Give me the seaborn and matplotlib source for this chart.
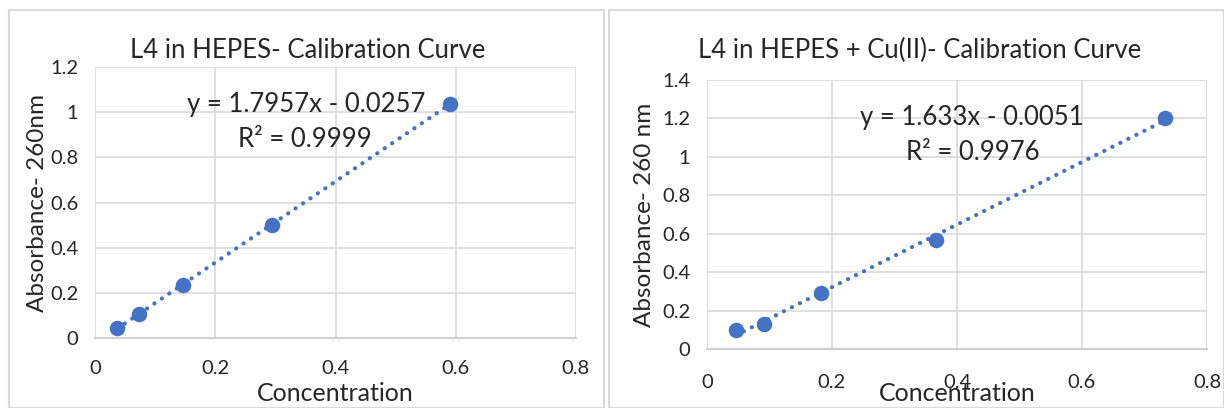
import numpy as np
import pandas as pd
import seaborn as sns
import matplotlib
matplotlib.use("Agg")
import matplotlib.pyplot as plt
from matplotlib.patches import Rectangle

# Data
conc_left = [0.037, 0.073, 0.147, 0.295, 0.590]
abs_left = [0.045, 0.108, 0.236, 0.500, 1.037]
conc_right = [0.046, 0.091, 0.183, 0.366, 0.732]
abs_right = [0.100, 0.130, 0.293, 0.565, 1.202]

title_left = "L4 in HEPES- Calibration Curve"
title_right = "L4 in HEPES + Cu(II)- Calibration Curve"
ylabel_left = "Absorbance- 260nm"
ylabel_right = "Absorbance- 260 nm"
xlabel = "Concentration"
eq_left = ("y = 1.7957x - 0.0257", "R² = 0.9999")
eq_right = ("y = 1.633x - 0.0051", "R² = 0.9976")
xticks = [0, 0.2, 0.4, 0.6, 0.8]
xtick_labels = ["0", "0.2", "0.4", "0.6", "0.8"]
yticks_left = [0, 0.2, 0.4, 0.6, 0.8, 1.0, 1.2]
yticklabels_left = ["0", "0.2", "0.4", "0.6", "0.8", "1", "1.2"]
yticks_right = [0, 0.2, 0.4, 0.6, 0.8, 1.0, 1.2, 1.4]
yticklabels_right = ["0", "0.2", "0.4", "0.6", "0.8", "1", "1.2", "1.4"]

sns.set_theme(style="white")
plt.rcParams["font.family"] = ["Lato", "DejaVu Sans"]

BLUE = "#4472C4"
GRID = "#D9D9D9"
TXT = "#262626"

W, H = 1224, 408
fig = plt.figure(figsize=(W / 100, H / 100), dpi=100)
fig.patch.set_facecolor("white")

# chart boxes
fig.add_artist(Rectangle((9 / W, 0), (604 - 9) / W, 398 / H, transform=fig.transFigure,
                         fill=False, edgecolor="#D9D9D9", lw=1.5))
fig.add_artist(Rectangle((609 / W, 0), (1224 - 609) / W, 398 / H, transform=fig.transFigure,
                         fill=False, edgecolor="#D9D9D9", lw=1.5))

def px_rect(l, r, top, bottom):
    return [l / W, (H - bottom) / H, (r - l) / W, (bottom - top) / H]

ax1 = fig.add_axes(px_rect(95, 576, 67, 338))
ax2 = fig.add_axes(px_rect(707, 1207, 80, 349))

def draw(ax, x, y, yticks, yticklabels, ymax, ylabel, eq, eqpos, r2pos, xtick_pad):
    df = pd.DataFrame({"x": x, "y": y})
    sns.regplot(data=df, x="x", y="y", ax=ax, ci=None, truncate=True,
                scatter_kws=dict(s=125, color=BLUE, edgecolor=BLUE, linewidths=0, alpha=1, zorder=3),
                line_kws=dict(color=BLUE, lw=3.0, linestyle=(0, (0.05, 2.1)),
                              dash_capstyle="round", zorder=2))
    ax.set_xlim(0, 0.8)
    ax.set_ylim(0, ymax)
    ax.set_xticks(xticks)
    ax.set_xticklabels(xtick_labels)
    ax.set_yticks(yticks)
    ax.set_yticklabels(yticklabels)
    ax.grid(True, color=GRID, lw=1.2)
    ax.set_axisbelow(True)
    for s in ["top", "right", "left"]:
        ax.spines[s].set_visible(False)
    ax.spines["bottom"].set_color("#D0D0D0")
    ax.spines["bottom"].set_linewidth(1.5)
    ax.tick_params(axis="both", length=0, labelsize=14.5, labelcolor=TXT)
    ax.tick_params(axis="x", pad=xtick_pad)
    ax.tick_params(axis="y", pad=12)
    ax.set_xlabel(xlabel, fontsize=18, color=TXT)
    ax.set_ylabel(ylabel, fontsize=17.5, color=TXT)
    ax.text(eqpos[0], eqpos[1], eq[0], fontsize=18.5, color=TXT, ha="center", va="center")
    ax.text(r2pos[0], r2pos[1], eq[1], fontsize=18.5, color=TXT, ha="center", va="center")

draw(ax1, conc_left, abs_left, yticks_left, yticklabels_left, 1.2, ylabel_left,
     eq_left, (0.352, 1.036), (0.349, 0.877), 16)
draw(ax2, conc_right, abs_right, yticks_right, yticklabels_right, 1.4, ylabel_right,
     eq_right, (0.424, 1.207), (0.426, 1.025), 18)
ax1.xaxis.set_label_coords(0.5, -0.163)
ax2.xaxis.set_label_coords(0.5, -0.123)
ax1.yaxis.set_label_coords(-0.098, 0.5)
ax2.yaxis.set_label_coords(-0.104, 0.5)

fig.text(308 / W, 1 - 50 / H, title_left, fontsize=18.5, color=TXT, ha="center", va="center")
fig.text(920 / W, 1 - 50 / H, title_right, fontsize=18.5, color=TXT, ha="center", va="center")

fig.savefig("out.png", dpi=100)
